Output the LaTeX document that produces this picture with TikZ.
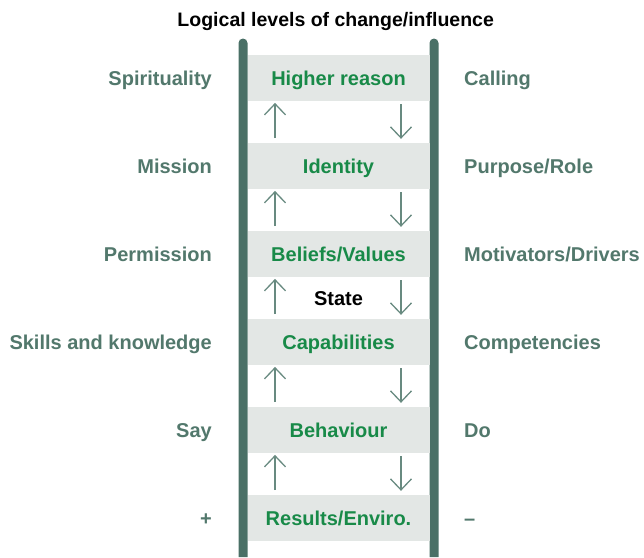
\documentclass[tikz,border=0pt]{standalone}
\usepackage{fontspec}
\setmainfont{Liberation Sans}
\usetikzlibrary{arrows.meta}

\definecolor{railgreen}{RGB}{74,112,102}
\definecolor{sidegreen}{RGB}{82,120,108}
\definecolor{lvlgreen}{RGB}{24,138,72}
\definecolor{boxgray}{RGB}{227,231,229}
\definecolor{arrgreen}{RGB}{104,138,128}

\tikzset{
  txt/.style={inner sep=0pt, text height=14.3pt, text depth=0pt,
              font=\fontsize{20}{24}\selectfont\bfseries},
  level/.style={txt, fill=boxgray, text=lvlgreen,
                minimum width=182pt, minimum height=46pt},
  side/.style={txt, text=sidegreen},
  flow/.style={arrgreen, line width=1.3pt,
               -{Straight Barb[length=11pt, width=21pt, line width=1.3pt]}}
}

\begin{document}
\begin{tikzpicture}[x=1pt, y=-1pt]
  \useasboundingbox (0,0) rectangle (644,557);
  \node[txt, font=\fontsize{19.5}{23}\selectfont\bfseries] (title) at (335.7,19)
    {Logical levels of change/influence};

  % the two rails
  \foreach \x in {243, 434}
    \fill[railgreen] (\x-4.5,557) -- (\x-4.5,43)
      arc[start angle=180, end angle=360, radius=4.5] -- (\x+4.5,557) -- cycle;

  \foreach \y/\l/\m/\r [count=\i] in {78/Spirituality/Higher reason/Calling,
      166/Mission/Identity/Purpose\slash Role,
      254/Permission/Beliefs\slash Values/Motivators\slash Drivers,
      342/Skills and knowledge/Capabilities/Competencies,
      430/Say/Behaviour/Do,
      518/+/Results\slash Enviro./--}
  {
    \node[level] (lv\i) at (338.5,\y) {\m};
    \node[side, anchor=east] (left\i) at (212,\y) {\l};
    \node[side, anchor=west] (right\i) at (464,\y) {\r};
  }

  \node[txt] (state) at (338.5,298) {State};

  \foreach \i [evaluate=\i as \j using int(\i+1)] in {1,...,5} {
    \draw[flow, shorten <=4.7pt, shorten >=1.7pt]
      ([xshift=-63.5pt]lv\j.north) -- ([xshift=-63.5pt]lv\i.south);
    \draw[flow, shorten <=3pt, shorten >=4pt]
      ([xshift=62.5pt]lv\i.south) -- ([xshift=62.5pt]lv\j.north);
  }
\end{tikzpicture}
\end{document}
